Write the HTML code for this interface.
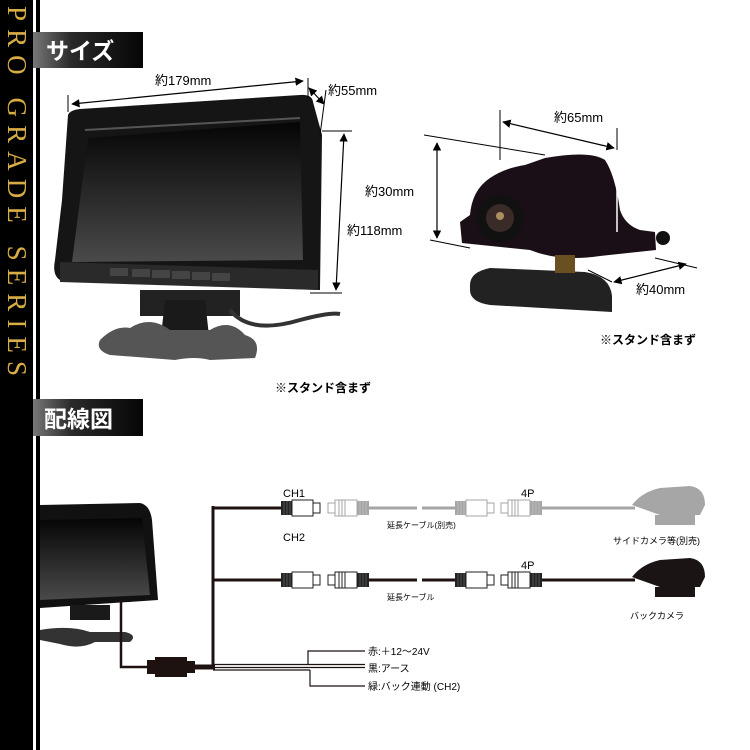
<!DOCTYPE html>
<html><head><meta charset="utf-8"><style>
html,body{margin:0;padding:0;background:#fff;}
svg{display:block}
text{font-family:"Liberation Sans","Noto Sans CJK JP",sans-serif;}
</style></head><body>
<svg width="750" height="750" viewBox="0 0 750 750" xmlns="http://www.w3.org/2000/svg">
<defs>
<linearGradient id="hdr" x1="0" x2="1" y1="0" y2="0">
<stop offset="0" stop-color="#777"/><stop offset="0.35" stop-color="#2a2a2a"/><stop offset="1" stop-color="#050505"/></linearGradient>
<linearGradient id="gold" x1="0" x2="0" y1="0" y2="1">
<stop offset="0" stop-color="#9a7015"/><stop offset="0.5" stop-color="#f3d36a"/><stop offset="1" stop-color="#9a7015"/></linearGradient>
<linearGradient id="scr" x1="0" x2="0" y1="0" y2="1">
<stop offset="0" stop-color="#050505"/><stop offset="1" stop-color="#4a4a4a"/></linearGradient>
<g id="cA"><rect x="0" y="-7" width="11" height="14" fill="#222"/><line x1="3" y1="-7" x2="3" y2="7" stroke="#777" stroke-width="0.6"/><line x1="6" y1="-7" x2="6" y2="7" stroke="#777" stroke-width="0.6"/><line x1="9" y1="-7" x2="9" y2="7" stroke="#777" stroke-width="0.6"/><rect x="11" y="-8" width="21" height="16" fill="#fff" stroke="#222" stroke-width="1"/><rect x="32" y="-5" width="7" height="10" fill="#fff" stroke="#222" stroke-width="1"/></g>
<g id="cB"><rect x="0" y="-5" width="7" height="10" fill="#fff" stroke="#222" stroke-width="1"/><rect x="7" y="-8" width="22" height="16" fill="#fff" stroke="#222" stroke-width="1"/><line x1="11" y1="-8" x2="11" y2="8" stroke="#222"/><line x1="14" y1="-8" x2="14" y2="8" stroke="#222"/><line x1="17" y1="-8" x2="17" y2="8" stroke="#222"/><rect x="29" y="-7" width="12" height="14" fill="#222"/><line x1="32" y1="-7" x2="32" y2="7" stroke="#777" stroke-width="0.6"/><line x1="35" y1="-7" x2="35" y2="7" stroke="#777" stroke-width="0.6"/><line x1="38" y1="-7" x2="38" y2="7" stroke="#777" stroke-width="0.6"/></g>
<marker id="ar" viewBox="0 0 10 10" refX="9" refY="5" markerWidth="7" markerHeight="7" orient="auto-start-reverse"><path d="M0,0 L10,5 L0,10z" fill="#000"/></marker>
</defs>

<!-- left bar -->
<rect x="0" y="0" width="33" height="750" fill="#000"/>
<rect x="36" y="0" width="4" height="750" fill="#000"/>
<text transform="translate(8,6) rotate(90)" font-size="27" fill="#d9ad45" textLength="370" lengthAdjust="spacing" style="font-family:'Liberation Serif',serif">PRO GRADE SERIES</text>

<!-- headers -->
<rect x="33" y="32" width="110" height="36" fill="url(#hdr)"/>
<text x="46" y="59" font-size="23" font-weight="bold" fill="#fff">サイズ</text>
<rect x="33" y="399" width="110" height="37" fill="url(#hdr)"/>
<text x="44" y="427" font-size="23" font-weight="bold" fill="#fff">配線図</text>

<!-- monitor top -->
<path d="M68,115 Q70,110 80,109 L300,95 Q312,94 313,102 L322,135 L320,290 L60,280 Q52,275 55,260 L62,200 Z" fill="#151515"/>
<path d="M88,138 L300,122 L303,260 L72,262 Z" fill="url(#scr)"/>
<path d="M85,130 L300,118" stroke="#555" stroke-width="2"/>
<path d="M60,262 L318,270 L318,290 L60,282Z" fill="#2a2a2a"/>
<g fill="#444"><rect x="110" y="268" width="18" height="8"/><rect x="132" y="269" width="18" height="8"/><rect x="152" y="270" width="18" height="8"/><rect x="172" y="271" width="18" height="8"/><rect x="192" y="272" width="18" height="8"/><rect x="212" y="273" width="18" height="8"/></g>
<rect x="140" y="290" width="100" height="26" fill="#222"/>
<path d="M165,300 L205,300 L210,345 L160,345Z" fill="#1a1a1a"/>
<path d="M100,340 Q115,325 130,328 Q150,315 170,330 L210,330 Q230,318 245,335 Q262,340 255,358 L210,360 Q195,356 175,360 L110,355 Q95,350 100,340Z" fill="#555"/>
<path d="M230,310 Q250,335 300,320 Q330,312 340,314" stroke="#333" stroke-width="4" fill="none"/>

<!-- monitor dims -->
<line x1="72" y1="104" x2="303" y2="81" stroke="#000" stroke-width="1.2" marker-start="url(#ar)" marker-end="url(#ar)"/>
<line x1="68" y1="95" x2="68" y2="112" stroke="#000"/>
<line x1="308" y1="78" x2="308" y2="98" stroke="#000"/>
<line x1="309" y1="88" x2="324" y2="104" stroke="#000" stroke-width="1.2" marker-start="url(#ar)" marker-end="url(#ar)"/>
<line x1="326" y1="90" x2="320" y2="135" stroke="#000"/>
<line x1="322" y1="131" x2="352" y2="131" stroke="#000"/>
<line x1="310" y1="293" x2="342" y2="293" stroke="#000"/>
<line x1="344" y1="134" x2="336" y2="290" stroke="#000" stroke-width="1.2" marker-start="url(#ar)" marker-end="url(#ar)"/>
<text x="155" y="85" font-size="13">約179mm</text>
<text x="328" y="95" font-size="13">約55mm</text>
<text x="347" y="235" font-size="13">約118mm</text>
<text x="365" y="196" font-size="13">約30mm</text>
<text x="275" y="392" font-size="12" font-weight="bold">※スタンド含まず</text>

<!-- camera top -->
<path d="M470,215 Q472,190 490,178 Q505,168 525,165 L545,158 Q590,150 605,160 Q615,175 620,210 Q625,225 640,230 L655,232 L656,250 L600,256 Q560,262 530,250 L462,243 L460,222Z" fill="#1a0f16"/>
<circle cx="500" cy="218" r="24" fill="#111"/><circle cx="500" cy="218" r="14" fill="#3a2b28"/><circle cx="500" cy="216" r="4" fill="#aa9060"/>
<circle cx="663" cy="238" r="7" fill="#111"/>
<path d="M470,285 Q470,272 490,268 L585,272 Q610,276 612,296 L612,312 L490,305 Q470,302 470,290Z" fill="#222"/>
<rect x="555" y="255" width="20" height="18" fill="#6a5020"/>
<line x1="424" y1="135" x2="545" y2="155" stroke="#000"/>
<line x1="430" y1="240" x2="470" y2="248" stroke="#000"/>
<line x1="437" y1="143" x2="437" y2="238" stroke="#000" stroke-width="1.2" marker-start="url(#ar)" marker-end="url(#ar)"/>
<line x1="500" y1="110" x2="500" y2="160" stroke="#000"/>
<line x1="617" y1="128" x2="617" y2="232" stroke="#fff" stroke-width="1.5"/>
<line x1="617" y1="128" x2="617" y2="150" stroke="#000"/>
<line x1="503" y1="122" x2="614" y2="148" stroke="#000" stroke-width="1.2" marker-start="url(#ar)" marker-end="url(#ar)"/>
<line x1="655" y1="258" x2="697" y2="268" stroke="#000"/>
<line x1="588" y1="270" x2="612" y2="282" stroke="#000"/>
<line x1="614" y1="282" x2="686" y2="264" stroke="#000" stroke-width="1.2" marker-start="url(#ar)" marker-end="url(#ar)"/>
<text x="554" y="122" font-size="13">約65mm</text>
<text x="636" y="294" font-size="13">約40mm</text>
<text x="600" y="344" font-size="12" font-weight="bold">※スタンド含まず</text>

<!-- wiring: monitor -->
<path d="M40,505 L140,503 Q150,505 152,520 L158,600 L40,608Z" fill="#111"/>
<path d="M40,520 L142,518 L150,595 L40,600Z" fill="url(#scr)"/>
<rect x="70" y="605" width="40" height="15" fill="#1a1a1a"/>
<path d="M40,630 Q70,625 90,632 L125,632 Q138,635 130,642 L95,642 Q80,650 60,644 L40,640Z" fill="#333"/>
<path d="M121,600 L121,667 L150,667" stroke="#1e1210" stroke-width="2.5" fill="none"/>
<rect x="147" y="660" width="12" height="14" fill="#1e1210"/>
<rect x="155" y="657" width="32" height="20" fill="#1e1210"/>
<rect x="187" y="661" width="8" height="12" fill="#1e1210"/>
<line x1="195" y1="667" x2="215" y2="667" stroke="#1e1210" stroke-width="5"/>
<line x1="213" y1="506" x2="213" y2="667" stroke="#1e1210" stroke-width="3"/>
<line x1="212" y1="508" x2="281" y2="508" stroke="#1e1210" stroke-width="3"/>
<line x1="212" y1="580" x2="281" y2="580" stroke="#1e1210" stroke-width="3"/>
<g stroke="#1e1210" stroke-width="1.2" fill="none">
<line x1="213" y1="664.5" x2="365" y2="664.5"/><line x1="213" y1="667.5" x2="365" y2="667.5"/><line x1="213" y1="670" x2="310" y2="670"/>
<path d="M308,664 L308,651 L365,651"/><path d="M310,670 L310,686 L365,686"/></g>
<text x="368" y="655" font-size="10">赤:＋12～24V</text>
<text x="368" y="672" font-size="10">黒:アース</text>
<text x="368" y="690" font-size="10">緑:バック連動 (CH2)</text>

<!-- CH1 row (gray) -->
<use href="#cA" x="281" y="508"/>
<g opacity="0.4"><use href="#cB" x="328" y="508"/>
<line x1="369" y1="508" x2="455" y2="508" stroke="#222" stroke-width="3"/>
<use href="#cA" x="455" y="508"/><use href="#cB" x="501" y="508"/>
<line x1="542" y1="508" x2="635" y2="508" stroke="#222" stroke-width="3"/>
<path d="M632,505 Q642,492 660,488 L690,486 Q705,488 705,505 L700,515 L660,515 Z" fill="#222"/>
<rect x="655" y="515" width="40" height="10" fill="#222"/></g>
<rect x="417" y="502" width="5" height="12" fill="#fff"/>
<text x="283" y="497" font-size="11">CH1</text>
<text x="283" y="541" font-size="11">CH2</text>
<text x="521" y="497" font-size="11">4P</text>
<text x="387" y="528" font-size="8">延長ケーブル(別売)</text>
<text x="613" y="544" font-size="9">サイドカメラ等(別売)</text>

<!-- CH2 row -->
<use href="#cA" x="281" y="580"/><use href="#cB" x="328" y="580"/>
<line x1="369" y1="580" x2="455" y2="580" stroke="#1e1210" stroke-width="3"/>
<rect x="417" y="574" width="5" height="12" fill="#fff"/>
<use href="#cA" x="455" y="580"/><use href="#cB" x="501" y="580"/>
<line x1="542" y1="580" x2="635" y2="580" stroke="#1e1210" stroke-width="3"/>
<path d="M632,577 Q642,564 660,560 L690,558 Q705,560 705,577 L700,587 L660,587 Z" fill="#1a1414"/>
<rect x="655" y="587" width="40" height="10" fill="#1a1414"/>
<text x="521" y="569" font-size="11">4P</text>
<text x="387" y="600" font-size="8">延長ケーブル</text>
<text x="630" y="619" font-size="9">バックカメラ</text>
</svg>
</body></html>
